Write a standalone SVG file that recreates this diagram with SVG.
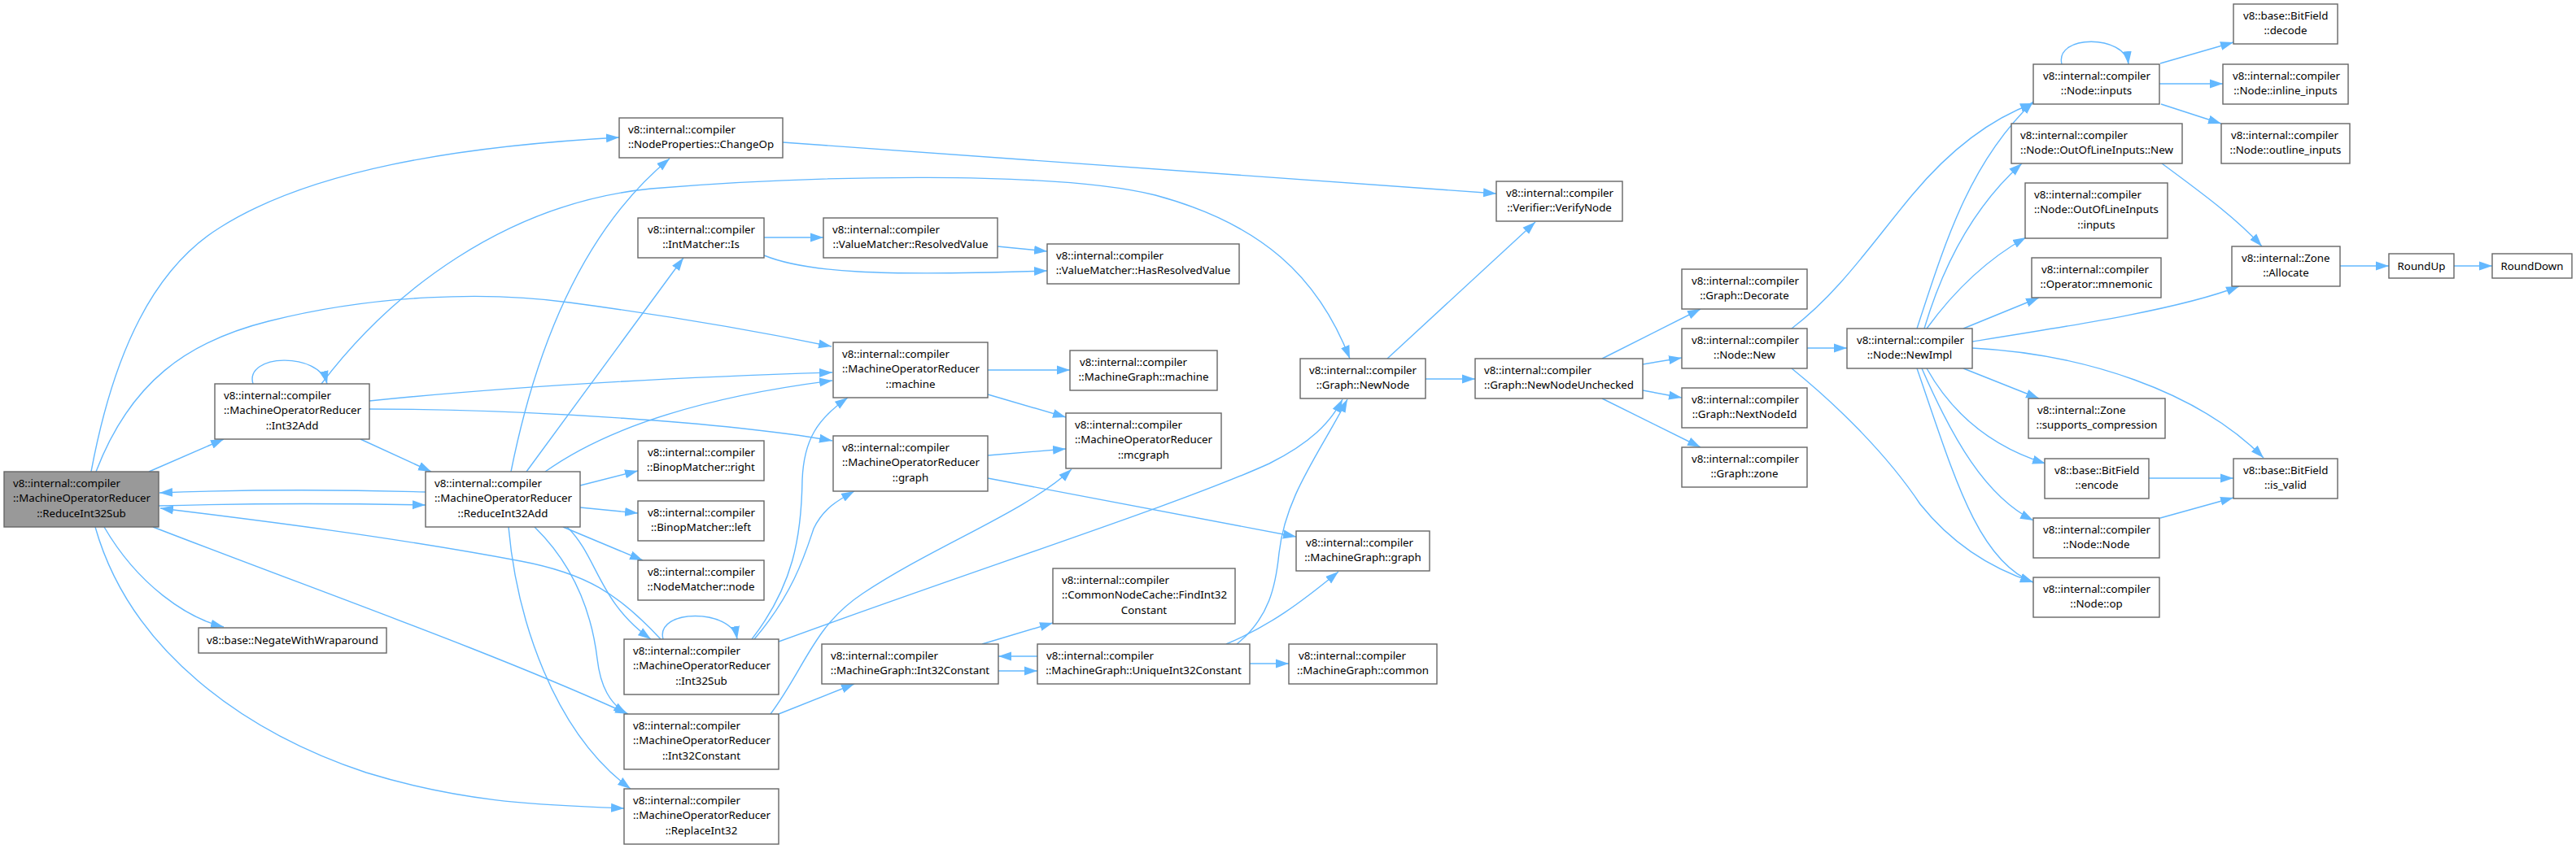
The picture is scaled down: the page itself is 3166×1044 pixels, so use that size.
<svg xmlns="http://www.w3.org/2000/svg" width="3166" height="1044" viewBox="0 0 3166 1044">
<style>
rect{fill:#fff;stroke:#666;stroke-width:1.4}
rect.main{fill:#999}
text{font-family:"Noto Sans","Open Sans",sans-serif;font-size:13.3px;fill:#000}
text.c{text-anchor:middle}
#edges path{fill:none;stroke:#63b8ff;stroke-width:1.4;marker-end:url(#a)}
</style>
<defs>
<marker id="a" markerUnits="userSpaceOnUse" viewBox="0 0 16 12" markerWidth="16" markerHeight="12" refX="16" refY="6" orient="auto"><path d="M0,0.5 L16,6 L0,11.5 z" fill="#63b8ff" stroke="none"/></marker>
</defs>
<rect x="0" y="0" width="3166" height="1044" style="fill:#fff;stroke:none"/>
<g id="edges">
<path d="M112,580 C140,430 190,330 270,280 C380,210 560,180 761,169"/>
<path d="M118,580 C160,470 230,420 330,395 C460,362 600,358 700,372 C820,388 920,405 1022,426"/>
<path d="M183,580 L275,540"/>
<path d="M195,622 C300,619 420,619 523,621"/>
<path d="M523,605 C420,602 300,602 196,606"/>
<path d="M812,786 C760,730 720,705 640,690 C480,660 320,640 197,625"/>
<path d="M128,648 C170,720 230,760 275,771"/>
<path d="M188,648 C400,730 600,800 772,878"/>
<path d="M117,648 C160,800 300,900 450,950 C580,990 680,990 767,994"/>
<path d="M628,580 C660,420 720,280 823,195"/>
<path d="M647,580 L840,317"/>
<path d="M670,580 C740,530 850,490 1023,468"/>
<path d="M713,597 L784,579"/>
<path d="M713,624 L784,631"/>
<path d="M692,648 L790,689"/>
<path d="M697,648 C735,685 735,740 800,786"/>
<path d="M657,648 C710,700 728,760 734,810 C738,845 750,865 770,878"/>
<path d="M625,648 C635,760 680,900 775,970"/>
<path d="M443,540 L530,580"/>
<path d="M311,472 C300,435 392,432 402,472"/>
<path d="M395,472 C480,360 620,250 800,232 C1000,215 1300,210 1420,240 C1550,275 1620,340 1659,441"/>
<path d="M454,493 C600,478 800,465 1023,458"/>
<path d="M454,503 C650,503 900,520 1023,542"/>
<path d="M939,292 L1012,292"/>
<path d="M939,314 C990,335 1080,340 1287,333"/>
<path d="M1226,303 L1287,309"/>
<path d="M962,175 C1300,200 1600,220 1839,238"/>
<path d="M1214,455 L1315,455"/>
<path d="M1214,485 L1310,513"/>
<path d="M1214,560 L1310,552"/>
<path d="M1214,588 L1593,660"/>
<path d="M815,786 C805,748 900,748 906,786"/>
<path d="M924,786 C975,720 985,660 986,590 C988,540 1005,515 1042,489"/>
<path d="M927,786 C975,730 990,680 1000,650 C1012,625 1030,615 1050,604"/>
<path d="M957,789 C1200,700 1450,620 1560,570 C1610,545 1635,520 1650,491"/>
<path d="M947,878 C990,820 1000,770 1060,730 C1150,670 1260,630 1317,577"/>
<path d="M957,878 L1050,841"/>
<path d="M1207,792 L1294,766"/>
<path d="M1275,807 L1227,807"/>
<path d="M1227,825 L1275,825"/>
<path d="M1520,792 C1560,760 1568,720 1572,680 C1580,610 1620,560 1656,491"/>
<path d="M1507,792 C1560,770 1600,740 1645,703"/>
<path d="M1536,816 L1584,816"/>
<path d="M1705,441 L1887,273"/>
<path d="M1752,466 L1813,466"/>
<path d="M1969,441 L2090,380"/>
<path d="M2019,448 L2067,440"/>
<path d="M2019,480 L2067,489"/>
<path d="M1969,490 L2090,550"/>
<path d="M2221,428 L2270,428"/>
<path d="M2202,404 C2260,360 2300,300 2350,240 C2400,180 2450,145 2499,127"/>
<path d="M2356,404 C2390,300 2420,200 2499,125"/>
<path d="M2365,404 C2390,320 2430,250 2485,201"/>
<path d="M2368,404 C2400,360 2440,320 2490,292"/>
<path d="M2413,404 L2506,366"/>
<path d="M2424,420 C2550,400 2680,380 2752,352"/>
<path d="M2413,453 L2506,490"/>
<path d="M2368,453 C2400,510 2450,550 2514,570"/>
<path d="M2362,453 C2400,540 2440,610 2499,640"/>
<path d="M2356,453 C2400,580 2430,690 2499,716"/>
<path d="M2202,453 C2260,500 2320,560 2360,620 C2400,670 2450,700 2499,716"/>
<path d="M2424,428 C2560,435 2700,480 2782,563"/>
<path d="M2534,79 C2525,42 2612,42 2616,79"/>
<path d="M2655,78 L2745,52"/>
<path d="M2654,103 L2732,103"/>
<path d="M2656,128 L2730,152"/>
<path d="M2657,201 C2710,240 2750,270 2780,303"/>
<path d="M2876,327 L2936,327"/>
<path d="M3016,327 L3063,327"/>
<path d="M2641,588 L2745,588"/>
<path d="M2655,637 L2745,612"/>
</g>
<g id="n_rs"><rect class="main" x="5" y="580" width="190" height="68"/><text x="16" y="598.5">v8::internal::compiler</text><text x="16" y="617">::MachineOperatorReducer</text><text class="c" x="100" y="635.5">::ReduceInt32Sub</text></g>
<g id="n_int32add"><rect x="264" y="472" width="190" height="68"/><text x="275" y="490.5">v8::internal::compiler</text><text x="275" y="509">::MachineOperatorReducer</text><text class="c" x="359" y="527.5">::Int32Add</text></g>
<g id="n_ra"><rect x="523" y="580" width="190" height="68"/><text x="534" y="598.5">v8::internal::compiler</text><text x="534" y="617">::MachineOperatorReducer</text><text class="c" x="618" y="635.5">::ReduceInt32Add</text></g>
<g id="n_negate"><rect x="244" y="772" width="231" height="31"/><text class="c" x="359.5" y="792">v8::base::NegateWithWraparound</text></g>
<g id="n_changeop"><rect x="761" y="145" width="201" height="49"/><text x="772" y="163.5">v8::internal::compiler</text><text class="c" x="861.5" y="182">::NodeProperties::ChangeOp</text></g>
<g id="n_is"><rect x="784" y="268" width="155" height="49"/><text x="796" y="286.5">v8::internal::compiler</text><text class="c" x="861.5" y="305">::IntMatcher::Is</text></g>
<g id="n_right"><rect x="784" y="542" width="155" height="49"/><text x="796" y="560.5">v8::internal::compiler</text><text class="c" x="861.5" y="579">::BinopMatcher::right</text></g>
<g id="n_left"><rect x="784" y="616" width="155" height="49"/><text x="796" y="634.5">v8::internal::compiler</text><text class="c" x="861.5" y="653">::BinopMatcher::left</text></g>
<g id="n_node"><rect x="784" y="689" width="155" height="49"/><text x="796" y="707.5">v8::internal::compiler</text><text class="c" x="861.5" y="726">::NodeMatcher::node</text></g>
<g id="n_int32sub"><rect x="767" y="786" width="190" height="68"/><text x="778" y="804.5">v8::internal::compiler</text><text x="778" y="823">::MachineOperatorReducer</text><text class="c" x="862" y="841.5">::Int32Sub</text></g>
<g id="n_int32const"><rect x="767" y="878" width="190" height="68"/><text x="778" y="896.5">v8::internal::compiler</text><text x="778" y="915">::MachineOperatorReducer</text><text class="c" x="862" y="933.5">::Int32Constant</text></g>
<g id="n_replace"><rect x="767" y="970" width="190" height="68"/><text x="778" y="988.5">v8::internal::compiler</text><text x="778" y="1007">::MachineOperatorReducer</text><text class="c" x="862" y="1025.5">::ReplaceInt32</text></g>
<g id="n_resolved"><rect x="1012" y="268" width="214" height="49"/><text x="1023" y="286.5">v8::internal::compiler</text><text class="c" x="1119" y="305">::ValueMatcher::ResolvedValue</text></g>
<g id="n_machine"><rect x="1024" y="421" width="190" height="68"/><text x="1035" y="439.5">v8::internal::compiler</text><text x="1035" y="458">::MachineOperatorReducer</text><text class="c" x="1119" y="476.5">::machine</text></g>
<g id="n_graph"><rect x="1024" y="536" width="190" height="68"/><text x="1035" y="554.5">v8::internal::compiler</text><text x="1035" y="573">::MachineOperatorReducer</text><text class="c" x="1119" y="591.5">::graph</text></g>
<g id="n_mg_int32const"><rect x="1010" y="792" width="217" height="49"/><text x="1021" y="810.5">v8::internal::compiler</text><text class="c" x="1118.5" y="829">::MachineGraph::Int32Constant</text></g>
<g id="n_hasresolved"><rect x="1287" y="300" width="236" height="49"/><text x="1298" y="318.5">v8::internal::compiler</text><text class="c" x="1405" y="337">::ValueMatcher::HasResolvedValue</text></g>
<g id="n_mg_machine"><rect x="1315" y="431" width="181" height="49"/><text x="1327" y="449.5">v8::internal::compiler</text><text class="c" x="1405.5" y="468">::MachineGraph::machine</text></g>
<g id="n_mcgraph"><rect x="1310" y="508" width="191" height="68"/><text x="1321" y="526.5">v8::internal::compiler</text><text x="1321" y="545">::MachineOperatorReducer</text><text class="c" x="1405.5" y="563.5">::mcgraph</text></g>
<g id="n_find"><rect x="1294" y="699" width="224" height="68"/><text x="1305" y="717.5">v8::internal::compiler</text><text x="1305" y="736">::CommonNodeCache::FindInt32</text><text class="c" x="1406" y="754.5">Constant</text></g>
<g id="n_unique"><rect x="1275" y="792" width="261" height="49"/><text x="1286" y="810.5">v8::internal::compiler</text><text class="c" x="1405.5" y="829">::MachineGraph::UniqueInt32Constant</text></g>
<g id="n_newnode"><rect x="1598" y="441" width="154" height="49"/><text x="1609" y="459.5">v8::internal::compiler</text><text class="c" x="1675" y="478">::Graph::NewNode</text></g>
<g id="n_mg_graph"><rect x="1593" y="653" width="164" height="49"/><text x="1605" y="671.5">v8::internal::compiler</text><text class="c" x="1675" y="690">::MachineGraph::graph</text></g>
<g id="n_mg_common"><rect x="1584" y="792" width="182" height="49"/><text x="1596" y="810.5">v8::internal::compiler</text><text class="c" x="1675" y="829">::MachineGraph::common</text></g>
<g id="n_verify"><rect x="1839" y="223" width="155" height="49"/><text x="1851" y="241.5">v8::internal::compiler</text><text class="c" x="1916.5" y="260">::Verifier::VerifyNode</text></g>
<g id="n_unchecked"><rect x="1813" y="441" width="206" height="49"/><text x="1824" y="459.5">v8::internal::compiler</text><text class="c" x="1916" y="478">::Graph::NewNodeUnchecked</text></g>
<g id="n_decorate"><rect x="2067" y="331" width="154" height="49"/><text x="2079" y="349.5">v8::internal::compiler</text><text class="c" x="2144" y="368">::Graph::Decorate</text></g>
<g id="n_nodenew"><rect x="2067" y="404" width="154" height="49"/><text x="2079" y="422.5">v8::internal::compiler</text><text class="c" x="2144" y="441">::Node::New</text></g>
<g id="n_nextid"><rect x="2067" y="477" width="154" height="49"/><text x="2079" y="495.5">v8::internal::compiler</text><text class="c" x="2144" y="514">::Graph::NextNodeId</text></g>
<g id="n_zone"><rect x="2067" y="550" width="154" height="49"/><text x="2079" y="568.5">v8::internal::compiler</text><text class="c" x="2144" y="587">::Graph::zone</text></g>
<g id="n_newimpl"><rect x="2270" y="404" width="154" height="49"/><text x="2282" y="422.5">v8::internal::compiler</text><text class="c" x="2347" y="441">::Node::NewImpl</text></g>
<g id="n_inputs"><rect x="2499" y="79" width="155" height="49"/><text x="2511" y="97.5">v8::internal::compiler</text><text class="c" x="2576.5" y="116">::Node::inputs</text></g>
<g id="n_oolnew"><rect x="2472" y="152" width="210" height="49"/><text x="2483" y="170.5">v8::internal::compiler</text><text class="c" x="2577" y="189">::Node::OutOfLineInputs::New</text></g>
<g id="n_oolinputs"><rect x="2489" y="225" width="175" height="68"/><text x="2500" y="243.5">v8::internal::compiler</text><text x="2500" y="262">::Node::OutOfLineInputs</text><text class="c" x="2576.5" y="280.5">::inputs</text></g>
<g id="n_mnemonic"><rect x="2497" y="317" width="159" height="49"/><text x="2509" y="335.5">v8::internal::compiler</text><text class="c" x="2576.5" y="354">::Operator::mnemonic</text></g>
<g id="n_compress"><rect x="2493" y="490" width="168" height="49"/><text x="2504" y="508.5">v8::internal::Zone</text><text class="c" x="2577" y="527">::supports_compression</text></g>
<g id="n_encode"><rect x="2513" y="564" width="128" height="49"/><text x="2525" y="582.5">v8::base::BitField</text><text class="c" x="2577" y="601">::encode</text></g>
<g id="n_nodenode"><rect x="2499" y="637" width="155" height="49"/><text x="2511" y="655.5">v8::internal::compiler</text><text class="c" x="2576.5" y="674">::Node::Node</text></g>
<g id="n_op"><rect x="2499" y="710" width="155" height="49"/><text x="2511" y="728.5">v8::internal::compiler</text><text class="c" x="2576.5" y="747">::Node::op</text></g>
<g id="n_decode"><rect x="2745" y="5" width="128" height="49"/><text x="2757" y="23.5">v8::base::BitField</text><text class="c" x="2809" y="42">::decode</text></g>
<g id="n_inline"><rect x="2732" y="79" width="154" height="49"/><text x="2744" y="97.5">v8::internal::compiler</text><text class="c" x="2809" y="116">::Node::inline_inputs</text></g>
<g id="n_outline"><rect x="2730" y="152" width="158" height="49"/><text x="2742" y="170.5">v8::internal::compiler</text><text class="c" x="2809" y="189">::Node::outline_inputs</text></g>
<g id="n_allocate"><rect x="2743" y="303" width="133" height="49"/><text x="2755" y="321.5">v8::internal::Zone</text><text class="c" x="2809.5" y="340">::Allocate</text></g>
<g id="n_isvalid"><rect x="2745" y="564" width="128" height="49"/><text x="2757" y="582.5">v8::base::BitField</text><text class="c" x="2809" y="601">::is_valid</text></g>
<g id="n_roundup"><rect x="2936" y="312" width="80" height="30"/><text class="c" x="2976" y="331.5">RoundUp</text></g>
<g id="n_rounddown"><rect x="3063" y="312" width="98" height="30"/><text class="c" x="3112" y="331.5">RoundDown</text></g>
</svg>
